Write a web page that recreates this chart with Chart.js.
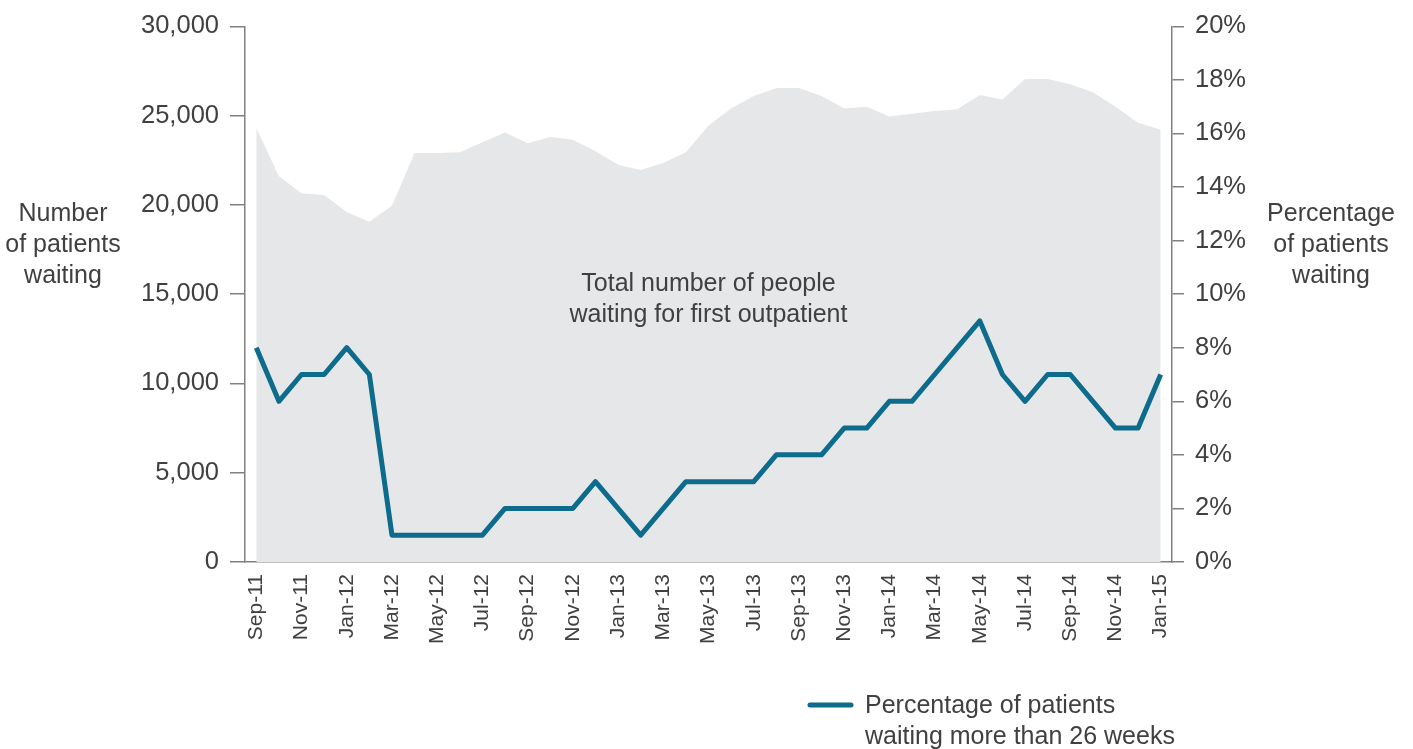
<!DOCTYPE html>
<html>
<head>
<meta charset="utf-8">
<script src="https://cdn.jsdelivr.net/npm/chart.js@4"></script>
<style>
  html, body { margin: 0; padding: 0; background: #fff; }
  #wrap { width: 1413px; height: 749px; position: relative; }
</style>
</head>
<body>
<div id="wrap"><canvas id="chart"></canvas></div>
<script>
// months Sep-11 .. Jan-15
const months = [
  "Sep-11","Oct-11","Nov-11","Dec-11","Jan-12","Feb-12","Mar-12","Apr-12","May-12","Jun-12",
  "Jul-12","Aug-12","Sep-12","Oct-12","Nov-12","Dec-12","Jan-13","Feb-13","Mar-13","Apr-13",
  "May-13","Jun-13","Jul-13","Aug-13","Sep-13","Oct-13","Nov-13","Dec-13","Jan-14","Feb-14",
  "Mar-14","Apr-14","May-14","Jun-14","Jul-14","Aug-14","Sep-14","Oct-14","Nov-14","Dec-14","Jan-15"
];

// total number waiting for first outpatient (left axis)
const totalWaiting = [
  24300, 21600, 20650, 20550, 19600, 19050, 19950, 22900, 22900, 22950,
  23500, 24050, 23450, 23800, 23650, 23000, 22250, 21950, 22350, 22950,
  24450, 25400, 26100, 26550, 26550, 26100, 25400, 25500, 24950, 25100,
  25250, 25350, 26150, 25900, 27050, 27050, 26750, 26300, 25500, 24600, 24200
];

// % waiting more than 26 weeks (right axis)
const pctOver26 = [
  8, 6, 7, 7, 8, 7, 1, 1, 1, 1,
  1, 2, 2, 2, 2, 3, 2, 1, 2, 3,
  3, 3, 3, 4, 4, 4, 5, 5, 6, 6,
  7, 8, 9, 7, 6, 7, 7, 6, 5, 5, 7
];

const leftTitle = ["Number", "of patients", "waiting"];
const rightTitle = ["Percentage", "of patients", "waiting"];
const areaNote = ["Total number of people", "waiting for first outpatient"];
const legendText = ["Percentage of patients", "waiting more than 26 weeks"];

const FONT = "'Liberation Sans', Arial, sans-serif";
const TEXT = "#404040";
const AXIS = "#808080";
const LINE = "#0d6b8c";
const AREA = "#e6e7e8";

// plain text drawn over the chart: axis titles, area label, legend
const textPlugin = {
  id: "texts",
  afterDatasetsDraw(chart) {
    const ctx = chart.ctx;
    const a = chart.chartArea;
    ctx.save();
    ctx.fillStyle = TEXT;
    ctx.font = "25px " + FONT;
    ctx.textAlign = "center";
    ctx.textBaseline = "middle";
    leftTitle.forEach((t, i) => ctx.fillText(t, 63, 214 + i * 31));
    rightTitle.forEach((t, i) => ctx.fillText(t, 1331, 214 + i * 31));
    const cx = (a.left + a.right) / 2;
    areaNote.forEach((t, i) => ctx.fillText(t, cx, 284 + i * 31));

    // legend
    ctx.strokeStyle = LINE;
    ctx.lineWidth = 5;
    ctx.lineCap = "round";
    ctx.beginPath();
    ctx.moveTo(810, 705);
    ctx.lineTo(851, 705);
    ctx.stroke();
    ctx.textAlign = "left";
    legendText.forEach((t, i) => ctx.fillText(t, 865, 706 + i * 31));
    ctx.restore();
  }
};

new Chart(document.getElementById("chart"), {
  type: "line",
  data: {
    labels: months,
    datasets: [
      {
        label: "Percentage of patients waiting more than 26 weeks",
        data: pctOver26,
        yAxisID: "yPct",
        borderColor: LINE,
        borderWidth: 5,
        pointRadius: 0,
        fill: false,
        tension: 0,
        borderJoinStyle: "round",
        order: 0
      },
      {
        label: "Total number of people waiting for first outpatient",
        data: totalWaiting,
        yAxisID: "yNum",
        borderWidth: 0,
        borderColor: AREA,
        backgroundColor: AREA,
        pointRadius: 0,
        fill: "origin",
        tension: 0,
        order: 1
      }
    ]
  },
  options: {
    responsive: true,
    maintainAspectRatio: false,
    animation: false,
    layout: { padding: { top: 23, left: 0, right: 0, bottom: 0 } },
    plugins: {
      legend: { display: false },
      tooltip: { enabled: false }
    },
    scales: {
      x: {
        offset: true,
        grid: { display: false, drawTicks: false },
        border: { display: true, color: AXIS, width: 1.5 },
        ticks: {
          autoSkip: false,
          minRotation: 90,
          maxRotation: 90,
          padding: 12,
          color: TEXT,
          font: { family: FONT, size: 21 },
          callback: (v, i) => (i % 2 === 0 ? months[i] : "")
        },
        afterFit: s => { s.height = 187; }
      },
      yNum: {
        position: "left",
        min: 0,
        max: 30000,
        grid: { drawOnChartArea: false, drawTicks: true, tickLength: 15, color: AXIS, lineWidth: 1.5 },
        border: { display: true, color: AXIS, width: 1.5 },
        ticks: {
          stepSize: 5000,
          padding: 11,
          color: TEXT,
          font: { family: FONT, size: 25.5 },
          callback: v => v.toLocaleString("en-US")
        },
        afterFit: s => { s.width = 245; }
      },
      yPct: {
        position: "right",
        min: 0,
        max: 20,
        grid: { drawOnChartArea: false, drawTicks: true, tickLength: 12, color: AXIS, lineWidth: 1.5 },
        border: { display: true, color: AXIS, width: 1.5 },
        ticks: {
          stepSize: 2,
          padding: 11,
          color: TEXT,
          font: { family: FONT, size: 25.5 },
          callback: v => v + "%"
        },
        afterFit: s => { s.width = 241; }
      }
    }
  },
  plugins: [textPlugin]
});
</script>
</body>
</html>
